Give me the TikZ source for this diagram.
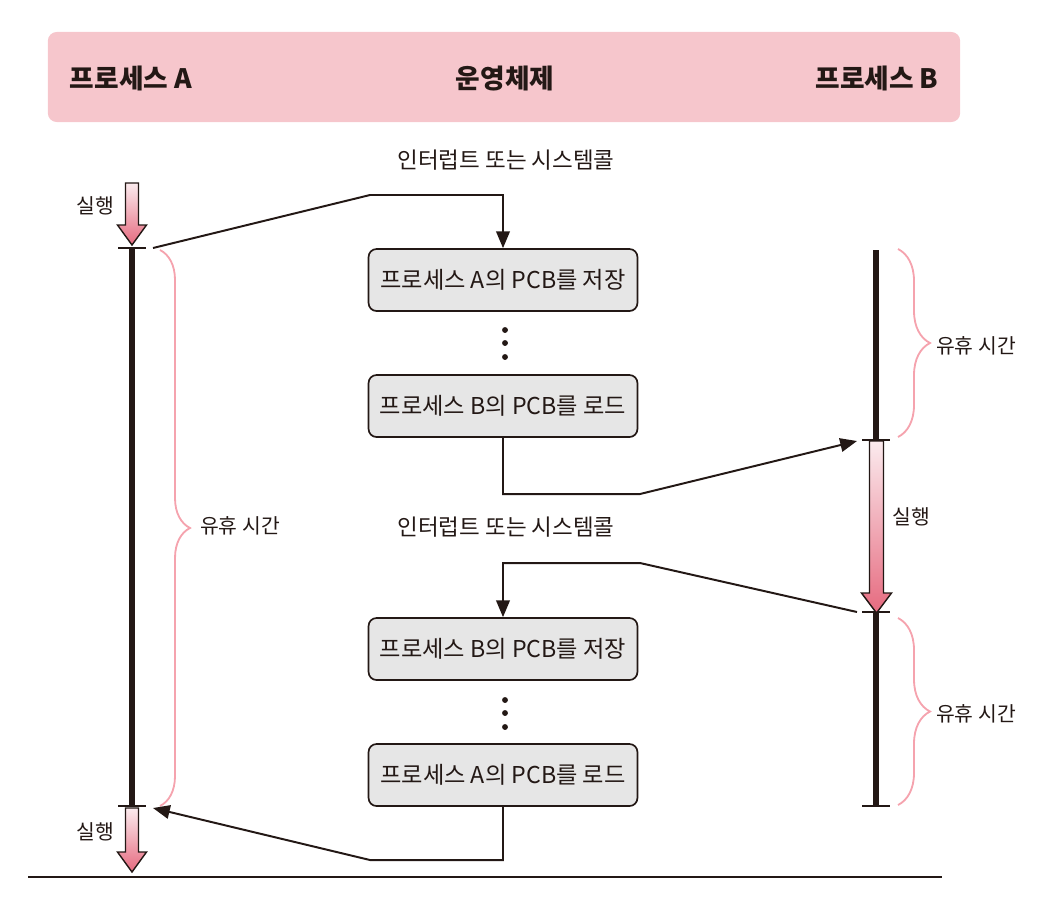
\documentclass[tikz,border=0pt]{standalone}
\usepackage{fontspec}
\setmainfont{Noto Sans CJK KR}
\usetikzlibrary{arrows.meta,decorations.pathreplacing}
\definecolor{ink}{HTML}{231815}
\definecolor{hdrpink}{HTML}{F6C6CC}
\definecolor{bracepink}{HTML}{F5A3AE}
\definecolor{runtop}{HTML}{FBEBEE}
\definecolor{runbot}{HTML}{E66A7F}
\definecolor{boxgray}{HTML}{E6E6E6}
\begin{document}
\begin{tikzpicture}[x=0.025cm, y=-0.025cm,
      every node/.style={font=\fontsize{14}{16}\selectfont, text=ink},
      header/.style={rectangle, fill=hdrpink, rounded corners=0.22cm, minimum width=22.8cm, minimum height=2.25cm},
      title/.style={font=\fontsize{19}{22}\selectfont\bfseries},
      intr/.style={font=\fontsize{16}{19}\selectfont},
      pcb/.style={rectangle, draw=ink, fill=boxgray, line width=1.2pt, rounded corners=0.2cm, minimum width=6.72cm, minimum height=1.55cm, font=\fontsize{16.5}{19}\selectfont},
      flow/.style={draw=ink, line width=1.4pt, -{Stealth[length=0.42cm, width=0.34cm, inset=0pt]}},
      life/.style={draw=ink, line width=3.6pt},
      tick/.style={draw=ink, line width=2pt},
      runbar/.style={draw=ink, line width=1pt, top color=runtop, bottom color=runbot},
      idle/.style={draw=bracepink, line width=1.3pt, decorate},
      lbl/.style={font=\fontsize{14.5}{17}\selectfont}
  ]
    \useasboundingbox (0,0) rectangle (1062,904);

    % header band
    \node[header] (hdr) at (504,77) {};
    \node[title] (procA) at (131,78) {프로세스 A};
    \node[title] (os) at (505,78) {운영체제};
    \node[title] (procB) at (877,78) {프로세스 B};

    % kernel side
    \node[intr] (intr1) at (506,160) {인터럽트 또는 시스템콜};
    \node[pcb] (saveA) at (503,280) {프로세스 A의 PCB를 저장};
    \node[pcb] (loadB) at (503,406) {프로세스 B의 PCB를 로드};
    \node[intr] (intr2) at (506,527) {인터럽트 또는 시스템콜};
    \node[pcb] (saveB) at (503,649) {프로세스 B의 PCB를 저장};
    \node[pcb] (loadA) at (503,775) {프로세스 A의 PCB를 로드};
    \foreach \y in {330,343,357,700,713,727} {
      \fill[ink] (505,\y) circle (2.1pt);
    }

    % timelines
    \coordinate (aTop) at (132,248);
    \coordinate (aBot) at (132,806);
    \coordinate (bTop) at (876,250);
    \coordinate (bRun) at (876,440);
    \coordinate (bIdle) at (876,612);
    \coordinate (bBot) at (876,806);
    \draw[life] (aTop) -- (aBot);
    \draw[life] (bTop) -- (bRun);
    \draw[life] (bIdle) -- (bBot);
    \foreach \x/\y in {132/248,132/806,876/440,876/612,876/806} {
      \draw[tick] (\x-14,\y) -- (\x+14,\y);
    }

    % running periods
    \path[runbar] (125.5,183) -- (138.5,183) -- (138.5,225) -- (146.5,225) -- (132,245) -- (117.5,225) -- (125.5,225) -- cycle;
    \path[runbar] (125.5,808) -- (138.5,808) -- (138.5,852) -- (146.5,852) -- (132,872) -- (117.5,852) -- (125.5,852) -- cycle;
    \path[runbar] (869.5,441) -- (883.5,441) -- (883.5,593) -- (891.5,593) -- (876.5,613) -- (861.5,593) -- (869.5,593) -- cycle;
    \node[lbl] (runA1) at (95,206) {실행};
    \node[lbl] (runA2) at (95,832) {실행};
    \node[lbl] (runB) at (911,517) {실행};

    % idle periods
    \draw[idle, decoration={brace, amplitude=0.75cm}] (160,250) -- (160,806);
    \draw[idle, decoration={brace, amplitude=0.8cm}] (898,249) -- (898,437);
    \draw[idle, decoration={brace, amplitude=0.8cm}] (898,618) -- (898,805);
    \node[lbl] (idleA) at (240,526) {유휴 시간};
    \node[lbl] (idleB1) at (976,346) {유휴 시간};
    \node[lbl] (idleB2) at (976,714) {유휴 시간};

    % context switches
    \coordinate (aOut) at (153,248);
    \coordinate (bIn) at (857,441);
    \coordinate (bOut) at (857,612);
    \coordinate (aIn) at (153,808);
    \draw[flow] (aOut) -- (370,195) -| (saveA.north);
    \draw[flow] (loadB.south) |- (640,494) -- (bIn);
    \draw[flow] (bOut) -- (640,563) -| (saveB.north);
    \draw[flow] (loadA.south) |- (370,860) -- (aIn);

    \draw[ink, line width=1.6pt] (28,877) -- (942,877);
  \end{tikzpicture}
\end{document}
